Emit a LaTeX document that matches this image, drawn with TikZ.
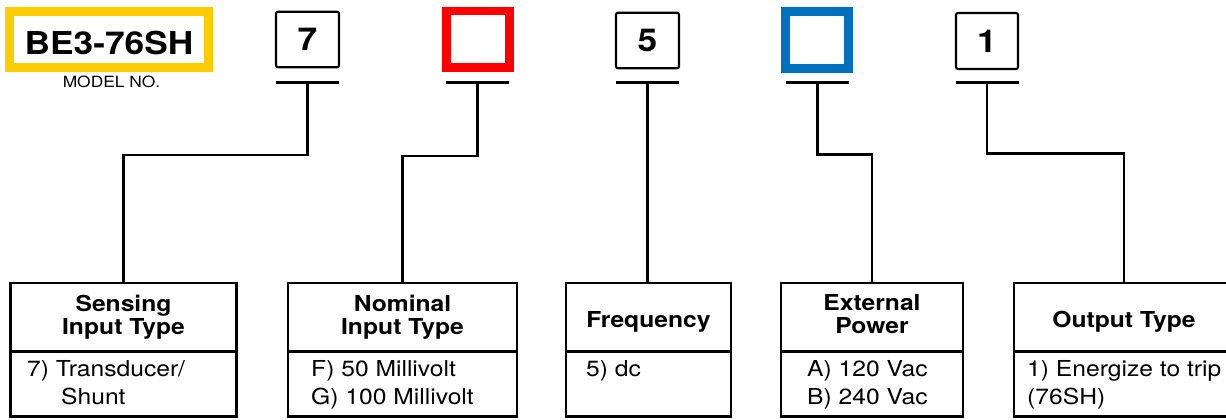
\documentclass[tikz,border=0pt]{standalone}
\usepackage{fontspec}
\setmainfont{TeX Gyre Heros}[FakeStretch=1.12]
\usepackage{tikz}
\definecolor{modelyellow}{HTML}{FFCC00}
\definecolor{nominalred}{HTML}{FF0000}
\definecolor{powerblue}{HTML}{0070C0}

\begin{document}
\begin{tikzpicture}[x=1pt, y=-1pt]
  \tikzset{digit box/.style={draw, line width=2.1pt, rounded corners=2pt, minimum width=63pt, minimum height=55.5pt, inner sep=0pt, font=\fontsize{31.5}{32}\selectfont\bfseries},
           blank box/.style={draw, line width=8.8pt, minimum width=63pt, minimum height=56.5pt, inner sep=0pt},
           bar/.style={line width=2.6pt},
           wire/.style={line width=2.6pt},
           field box/.style={draw, line width=2.6pt, inner sep=0pt, outer sep=0pt},
           field title/.style={align=center, font=\fontsize{22}{23}\selectfont\bfseries},
           field opts/.style={align=left, anchor=north west, inner sep=0pt, font=\fontsize{22}{28}\selectfont}}
  \useasboundingbox (0,0) rectangle (1226,420);
  \clip (0,0) rectangle (1226,420);

  \node[draw=modelyellow, line width=9pt, minimum width=199pt, minimum height=56pt, inner sep=0pt,
        text height=31pt, text depth=0pt, font=\fontsize{31.5}{32}\selectfont\bfseries] (model) at (109,39.5) {BE3-76SH};
  \node[anchor=base, inner sep=0pt, font=\fontsize{15.5}{16}\selectfont] (model-no) at (111.5,87.5) {MODEL NO.};

  \node[digit box] (seven) at (307.5,39.5) {7};
  \node[blank box, draw=nominalred] (red) at (477.75,39.25) {};
  \node[digit box] (five) at (647.5,40.5) {5};
  \node[blank box, draw=powerblue, minimum height=57pt] (blue) at (817,40) {};
  \node[digit box, minimum width=62pt, minimum height=56pt] (one) at (987,41) {1};

  \foreach \n/\x in {seven/307.5, nominal/477.5, freq/647.5, power/817.5, output/987}
    \draw[bar] (\x-31.5,82.5) -- (\x+31.5,82.5) coordinate[pos=.5] (bar-\n);

  \node[field box, minimum width=226.5pt, minimum height=68.5pt] (sense) at (123.5,317.25) {};
  \node[field box, minimum width=226.5pt, minimum height=65pt, anchor=north] (sense-opts) at (sense.south) {};
  \node[field box, minimum width=229pt, minimum height=68.5pt] (nominal) at (402.5,317.25) {};
  \node[field box, minimum width=229pt, minimum height=65pt, anchor=north] (nominal-opts) at (nominal.south) {};
  \node[field box, minimum width=165pt, minimum height=68.5pt] (freq) at (648.5,317.25) {};
  \node[field box, minimum width=165pt, minimum height=65pt, anchor=north] (freq-opts) at (freq.south) {};
  \node[field box, minimum width=182pt, minimum height=68.5pt] (power) at (872,317.25) {};
  \node[field box, minimum width=182pt, minimum height=65pt, anchor=north] (power-opts) at (power.south) {};
  \node[field box, minimum width=220pt, minimum height=68.5pt] (output) at (1124,317.25) {};
  \node[field box, minimum width=220pt, minimum height=65pt, anchor=north] (output-opts) at (output.south) {};

  \node[field title] (sense-title) at (123.5,316.8) {Sensing\\Input Type};
  \node[field title] (nominal-title) at (402.5,316.8) {Nominal\\Input Type};
  \node[field title] (freq-title) at (648.5,321.4) {Frequency};
  \node[field title] (power-title) at (872,314.5) {External\\Power};
  \node[field title] (output-title) at (1124,321.4) {Output Type};

  \node[field opts] (sense-list) at (27,360) {7) Transducer/\\\hspace*{34pt}Shunt};
  \node[field opts] (nominal-list) at (311,360) {F) 50 Millivolt\\G) 100 Millivolt};
  \node[field opts] (freq-list) at (586,360) {5) dc};
  \node[field opts] (power-list) at (807,360) {A) 120 Vac\\B) 240 Vac};
  \node[field opts] (output-list) at (1027,360) {1) Energize to trip\\(76SH)};

  \draw[wire] (bar-seven) -- ++(0,72.5) -| (sense.north);
  \draw[wire] (bar-nominal) -- ++(0,73.5) -| (nominal.north);
  \draw[wire] (bar-freq) -- (bar-freq |- freq.north);
  \draw[wire] (bar-power) -- ++(0,72) -| (power.north);
  \draw[wire] (bar-output) -- ++(0,71) -| (output.north);
\end{tikzpicture}
\end{document}
